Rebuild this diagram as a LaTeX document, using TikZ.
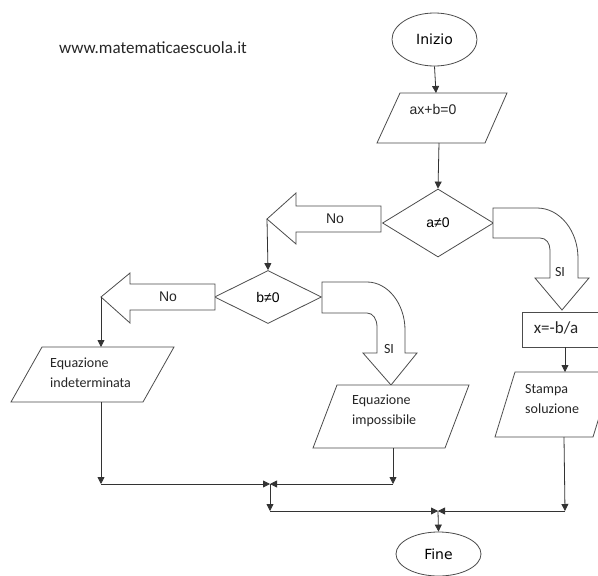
\documentclass[tikz,border=0pt]{standalone}
\usepackage{fontspec}
\setmainfont{Liberation Sans}
\newfontfamily\carl{Carlito}
\newfontfamily\dejav{DejaVu Sans}
\usetikzlibrary{arrows.meta,shapes.geometric}
\tikzset{
  ln/.style={draw=black!80, line width=0.8pt},
  arr/.style={ln, -{Triangle[length=7pt,width=7pt]}},
  shp/.style={draw=black!70, line width=0.8pt, fill=white},
  oval/.style={shp, ellipse, inner sep=0pt, font=\dejav\fontsize{14}{16}\selectfont},
  dec/.style={shp, diamond, inner sep=0pt, font=\fontsize{14}{16}\selectfont},
  lbl/.style={inner sep=0pt, text=black!85},
  cal/.style={lbl, font=\carl\fontsize{14}{20}\selectfont, align=left, anchor=west},
  arial/.style={lbl, font=\fontsize{14}{16}\selectfont},
}
\begin{document}
\begin{tikzpicture}[x=1pt,y=-1pt]
\useasboundingbox (0,0) rectangle (598,576);
\fill[white] (0,0) rectangle (598,576);

% website
\node[lbl, font=\carl\fontsize{17}{20}\selectfont] (url) at (153,48) {www.matematicaescuola.it};

% start
\node[oval, minimum width=85, minimum height=53] (start) at (434.5,39.5) {Inizio};

% input parallelogram
\draw[shp] (400,93) -- (507,93) -- (485,143) -- (377,143) -- cycle;
\coordinate (inTop) at (436,93);
\coordinate (inBot) at (439,143);
\node[arial] (inTxt) at (433,109) {ax+b=0};

% decision a
\node[dec, minimum width=111, minimum height=68] (da) at (438,223) {a≠0};

% No arrow a
\draw[shp] (381,206) -- (296,206) -- (296,193) -- (267,219) -- (296,244) -- (296,232) -- (381,232) -- cycle;
\coordinate (noA) at (267,219);
\node[arial] (noAt) at (335,219) {No};

% decision b
\node[dec, minimum width=107, minimum height=53] (db) at (268,297) {b≠0};

% No arrow b
\draw[shp] (215,284) -- (130,284) -- (130,273) -- (101,297) -- (130,323) -- (130,310) -- (215,310) -- cycle;
\coordinate (noB) at (101,297);
\node[arial] (noBt) at (168,297) {No};

% SI arrow b
\draw[shp] (322,282) -- (367,282) .. controls (388,282) and (405,304) .. (405,330) -- (405,353) -- (417,353) -- (391,385) -- (363,353) -- (377,353) -- (377,327) .. controls (377,319) and (373,313) .. (367,313) -- (322,313) -- cycle;
\node[lbl, font=\carl\fontsize{14}{16}\selectfont] (siB) at (389,349) {SI};

% SI arrow a
\draw[shp] (493,208) -- (537,208) .. controls (560,208) and (578,231) .. (578,258) -- (578,278) -- (589,278) -- (562,310) -- (535,278) -- (550,278) -- (550,250) .. controls (550,243) and (546,238) .. (540,238) -- (493,238) -- cycle;
\node[lbl, font=\carl\fontsize{14}{16}\selectfont] (siA) at (560,272) {SI};

% indeterminata
\draw[shp] (42,347) -- (174,347) -- (143,402) -- (11,402) -- cycle;
\coordinate (indTop) at (101,347);
\coordinate (indBot) at (101,402);
\node[cal] (indTxt) at (50,373) {Equazione\\indeterminata};

% impossibile
\draw[shp] (337,385) -- (469,385) -- (445,448) -- (313,448) -- cycle;
\coordinate (impBot) at (393,448);
\node[cal] (impTxt) at (352,410.5) {Equazione\\impossibile};

% solution
\node[shp, minimum width=76, minimum height=35, inner sep=0pt] (sol) at (560,329.5) {};
\node[lbl, font=\carl\fontsize{17}{20}\selectfont] (solTxt) at (556,328) {x=-b/a};

% stampa
\draw[shp] (515,372) -- (613,372) -- (593,437) -- (495,437) -- cycle;
\coordinate (stTop) at (565,372);
\coordinate (stBot) at (564,437);
\node[cal] (stTxt) at (525,399) {Stampa\\soluzione};

% end
\node[oval, minimum width=85, minimum height=44] (end) at (438.5,554) {Fine};

% junction points
\coordinate (c1) at (101,484);
\coordinate (c2) at (393,484);
\coordinate (j1) at (270,484);
\coordinate (c3) at (270,511);
\coordinate (c4) at (565,511);
\coordinate (j2) at (438,511);

% connectors
\draw[arr] (start.south) -- (inTop);
\draw[arr] (inBot) -- (da.north);
\draw[arr] (noA) -- (db.north);
\draw[arr] (noB) -- (indTop);
\draw[arr] (sol.south -| stTop) -- (stTop);
\draw[arr] (indBot) -- (c1);
\draw[arr] (c1) -- (j1);
\draw[arr] (impBot) -- (c2);
\draw[arr] (c2) -- (j1);
\draw[arr] (j1) -- (c3);
\draw[arr] (c3) -- (j2);
\draw[arr] (stBot) -- (c4);
\draw[arr] (c4) -- (j2);
\draw[arr] (j2) -- (end.north);
\end{tikzpicture}
\end{document}
